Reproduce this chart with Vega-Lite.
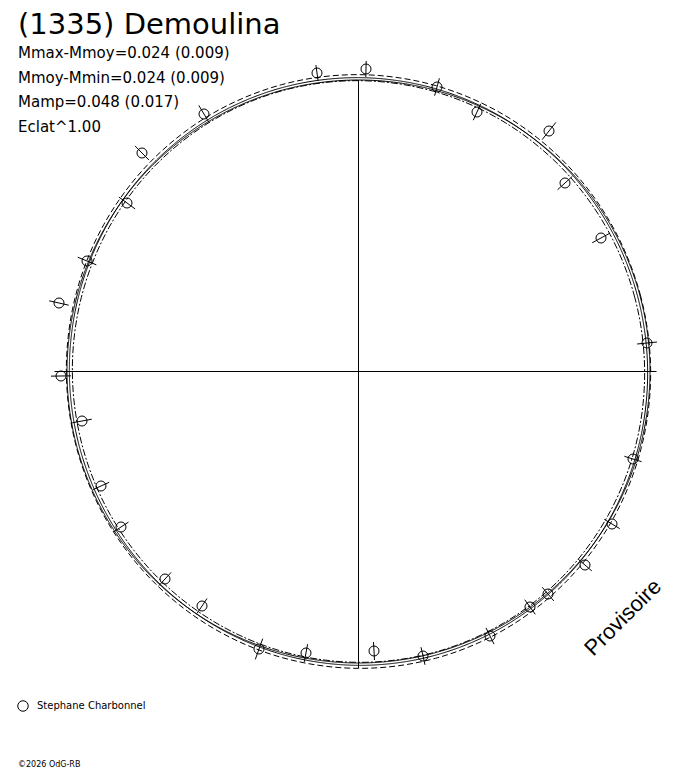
{
  "$schema": "https://vega.github.io/schema/vega-lite/v6.json",
  "width": 688,
  "height": 608,
  "autosize": {"type": "none"},
  "padding": {"left": 0, "right": 0, "top": 140, "bottom": 20},
  "background": "white",
  "config": {"view": {"stroke": null}},
  "title": {
    "text": "(1335) Demoulina",
    "subtitle": ["Mmax-Mmoy=0.024 (0.009)", "Mmoy-Mmin=0.024 (0.009)", "Mamp=0.048 (0.017)", "Eclat^1.00"],
    "anchor": "start",
    "frame": "group",
    "font": "DejaVu Sans",
    "fontSize": 29,
    "fontWeight": "normal",
    "color": "black",
    "subtitleFont": "DejaVu Sans",
    "subtitleFontSize": 15,
    "subtitleColor": "black",
    "subtitleLineHeight": 24.5,
    "subtitlePadding": 6,
    "offset": 4,
    "dx": 18,
    "dy": 78
  },
  "datasets": {
    "curves": [
      {"curve": "circle", "phase": 0, "x": 291.5, "y": 0},
      {"curve": "circle", "phase": 15, "x": 281.57, "y": 75.45},
      {"curve": "circle", "phase": 30, "x": 252.45, "y": 145.75},
      {"curve": "circle", "phase": 45, "x": 206.12, "y": 206.12},
      {"curve": "circle", "phase": 60, "x": 145.75, "y": 252.45},
      {"curve": "circle", "phase": 75, "x": 75.45, "y": 281.57},
      {"curve": "circle", "phase": 90, "x": 0, "y": 291.5},
      {"curve": "circle", "phase": 105, "x": -75.45, "y": 281.57},
      {"curve": "circle", "phase": 120, "x": -145.75, "y": 252.45},
      {"curve": "circle", "phase": 135, "x": -206.12, "y": 206.12},
      {"curve": "circle", "phase": 150, "x": -252.45, "y": 145.75},
      {"curve": "circle", "phase": 165, "x": -281.57, "y": 75.45},
      {"curve": "circle", "phase": 180, "x": -291.5, "y": 0},
      {"curve": "circle", "phase": 195, "x": -281.57, "y": -75.45},
      {"curve": "circle", "phase": 210, "x": -252.45, "y": -145.75},
      {"curve": "circle", "phase": 225, "x": -206.12, "y": -206.12},
      {"curve": "circle", "phase": 240, "x": -145.75, "y": -252.45},
      {"curve": "circle", "phase": 255, "x": -75.45, "y": -281.57},
      {"curve": "circle", "phase": 270, "x": 0, "y": -291.5},
      {"curve": "circle", "phase": 285, "x": 75.45, "y": -281.57},
      {"curve": "circle", "phase": 300, "x": 145.75, "y": -252.45},
      {"curve": "circle", "phase": 315, "x": 206.12, "y": -206.12},
      {"curve": "circle", "phase": 330, "x": 252.45, "y": -145.75},
      {"curve": "circle", "phase": 345, "x": 281.57, "y": -75.45},

      {"curve": "fit", "phase": 0, "x": 289.15, "y": 0},
      {"curve": "fit", "phase": 15, "x": 279.19, "y": 74.81},
      {"curve": "fit", "phase": 30, "x": 250.79, "y": 144.79},
      {"curve": "fit", "phase": 45, "x": 205.51, "y": 205.51},
      {"curve": "fit", "phase": 60, "x": 145.97, "y": 252.82},
      {"curve": "fit", "phase": 75, "x": 75.86, "y": 283.12},
      {"curve": "fit", "phase": 90, "x": 0, "y": 293.85},
      {"curve": "fit", "phase": 105, "x": -76.08, "y": 283.94},
      {"curve": "fit", "phase": 120, "x": -146.71, "y": 254.11},
      {"curve": "fit", "phase": 135, "x": -206.73, "y": 206.73},
      {"curve": "fit", "phase": 150, "x": -252.08, "y": 145.54},
      {"curve": "fit", "phase": 165, "x": -280.01, "y": 75.03},
      {"curve": "fit", "phase": 180, "x": -289.15, "y": 0},
      {"curve": "fit", "phase": 195, "x": -279.19, "y": -74.81},
      {"curve": "fit", "phase": 210, "x": -250.79, "y": -144.79},
      {"curve": "fit", "phase": 225, "x": -205.51, "y": -205.51},
      {"curve": "fit", "phase": 240, "x": -145.97, "y": -252.82},
      {"curve": "fit", "phase": 255, "x": -75.86, "y": -283.12},
      {"curve": "fit", "phase": 270, "x": 0, "y": -293.85},
      {"curve": "fit", "phase": 285, "x": 76.08, "y": -283.94},
      {"curve": "fit", "phase": 300, "x": 146.71, "y": -254.11},
      {"curve": "fit", "phase": 315, "x": 206.73, "y": -206.73},
      {"curve": "fit", "phase": 330, "x": 252.08, "y": -145.54},
      {"curve": "fit", "phase": 345, "x": 280.01, "y": -75.03},

      {"curve": "max", "phase": 0, "x": 292.15, "y": 0},
      {"curve": "max", "phase": 15, "x": 282.09, "y": 75.59},
      {"curve": "max", "phase": 30, "x": 253.38, "y": 146.29},
      {"curve": "max", "phase": 45, "x": 207.64, "y": 207.64},
      {"curve": "max", "phase": 60, "x": 147.47, "y": 255.42},
      {"curve": "max", "phase": 75, "x": 76.64, "y": 286.02},
      {"curve": "max", "phase": 90, "x": 0, "y": 296.85},
      {"curve": "max", "phase": 105, "x": -76.86, "y": 286.84},
      {"curve": "max", "phase": 120, "x": -148.21, "y": 256.71},
      {"curve": "max", "phase": 135, "x": -208.85, "y": 208.85},
      {"curve": "max", "phase": 150, "x": -254.67, "y": 147.04},
      {"curve": "max", "phase": 165, "x": -282.91, "y": 75.81},
      {"curve": "max", "phase": 180, "x": -292.15, "y": 0},
      {"curve": "max", "phase": 195, "x": -282.09, "y": -75.59},
      {"curve": "max", "phase": 210, "x": -253.38, "y": -146.29},
      {"curve": "max", "phase": 225, "x": -207.64, "y": -207.64},
      {"curve": "max", "phase": 240, "x": -147.47, "y": -255.42},
      {"curve": "max", "phase": 255, "x": -76.64, "y": -286.02},
      {"curve": "max", "phase": 270, "x": 0, "y": -296.85},
      {"curve": "max", "phase": 285, "x": 76.86, "y": -286.84},
      {"curve": "max", "phase": 300, "x": 148.21, "y": -256.71},
      {"curve": "max", "phase": 315, "x": 208.85, "y": -208.85},
      {"curve": "max", "phase": 330, "x": 254.67, "y": -147.04},
      {"curve": "max", "phase": 345, "x": 282.91, "y": -75.81},

      {"curve": "min", "phase": 0, "x": 286.15, "y": 0},
      {"curve": "min", "phase": 15, "x": 276.29, "y": 74.03},
      {"curve": "min", "phase": 30, "x": 248.19, "y": 143.29},
      {"curve": "min", "phase": 45, "x": 203.39, "y": 203.39},
      {"curve": "min", "phase": 60, "x": 144.47, "y": 250.22},
      {"curve": "min", "phase": 75, "x": 75.09, "y": 280.22},
      {"curve": "min", "phase": 90, "x": 0, "y": 290.85},
      {"curve": "min", "phase": 105, "x": -75.31, "y": 281.05},
      {"curve": "min", "phase": 120, "x": -145.21, "y": 251.51},
      {"curve": "min", "phase": 135, "x": -204.61, "y": 204.61},
      {"curve": "min", "phase": 150, "x": -249.47, "y": 144.04},
      {"curve": "min", "phase": 165, "x": -277.12, "y": 74.25},
      {"curve": "min", "phase": 180, "x": -286.15, "y": 0},
      {"curve": "min", "phase": 195, "x": -276.29, "y": -74.03},
      {"curve": "min", "phase": 210, "x": -248.19, "y": -143.29},
      {"curve": "min", "phase": 225, "x": -203.39, "y": -203.39},
      {"curve": "min", "phase": 240, "x": -144.47, "y": -250.22},
      {"curve": "min", "phase": 255, "x": -75.09, "y": -280.22},
      {"curve": "min", "phase": 270, "x": 0, "y": -290.85},
      {"curve": "min", "phase": 285, "x": 75.31, "y": -281.05},
      {"curve": "min", "phase": 300, "x": 145.21, "y": -251.51},
      {"curve": "min", "phase": 315, "x": 204.61, "y": -204.61},
      {"curve": "min", "phase": 330, "x": 249.47, "y": -144.04},
      {"curve": "min", "phase": 345, "x": 277.12, "y": -74.25}
    ],
    "obs": [
      {"observer": "Stephane Charbonnel", "x": -41.5, "y": 298.5, "x_lo": -40.4, "y_lo": 290.6, "x_hi": -42.6, "y_hi": 306.4},
      {"observer": "Stephane Charbonnel", "x": 7.5, "y": 302.5, "x_lo": 7.3, "y_lo": 294.5, "x_hi": 7.7, "y_hi": 310.5},
      {"observer": "Stephane Charbonnel", "x": 78.5, "y": 284.5, "x_lo": 76.1, "y_lo": 275.8, "x_hi": 80.9, "y_hi": 293.2},
      {"observer": "Stephane Charbonnel", "x": 118.5, "y": 259.5, "x_lo": 114.8, "y_lo": 251.3, "x_hi": 122.2, "y_hi": 267.7},
      {"observer": "Stephane Charbonnel", "x": 190.5, "y": 240.5, "x_lo": 183.7, "y_lo": 231.9, "x_hi": 197.3, "y_hi": 249.1},
      {"observer": "Stephane Charbonnel", "x": 206.5, "y": 188.5, "x_lo": 199.1, "y_lo": 181.8, "x_hi": 213.9, "y_hi": 195.2},
      {"observer": "Stephane Charbonnel", "x": 242.5, "y": 133.5, "x_lo": 233.7, "y_lo": 128.7, "x_hi": 251.3, "y_hi": 138.3},
      {"observer": "Stephane Charbonnel", "x": 288.5, "y": 28.5, "x_lo": 278.6, "y_lo": 27.5, "x_hi": 298.5, "y_hi": 29.5},
      {"observer": "Stephane Charbonnel", "x": 274.5, "y": -87.5, "x_lo": 265.9, "y_lo": -84.8, "x_hi": 283.1, "y_hi": -90.2},
      {"observer": "Stephane Charbonnel", "x": 253.5, "y": -152.5, "x_lo": 245.8, "y_lo": -147.9, "x_hi": 261.2, "y_hi": -157.1},
      {"observer": "Stephane Charbonnel", "x": 226.5, "y": -193.5, "x_lo": 219.7, "y_lo": -187.7, "x_hi": 233.3, "y_hi": -199.4},
      {"observer": "Stephane Charbonnel", "x": 189.5, "y": -222.5, "x_lo": 183.7, "y_lo": -215.7, "x_hi": 195.3, "y_hi": -229.4},
      {"observer": "Stephane Charbonnel", "x": 171.5, "y": -235.5, "x_lo": 166.2, "y_lo": -228.2, "x_hi": 176.8, "y_hi": -242.8},
      {"observer": "Stephane Charbonnel", "x": 131.5, "y": -264.5, "x_lo": 127.5, "y_lo": -256.4, "x_hi": 135.5, "y_hi": -272.6},
      {"observer": "Stephane Charbonnel", "x": 64.5, "y": -284.5, "x_lo": 62.5, "y_lo": -275.7, "x_hi": 66.5, "y_hi": -293.3},
      {"observer": "Stephane Charbonnel", "x": 15.5, "y": -279.5, "x_lo": 15.0, "y_lo": -270.5, "x_hi": 16.0, "y_hi": -288.5},
      {"observer": "Stephane Charbonnel", "x": -52.5, "y": -281.5, "x_lo": -50.9, "y_lo": -272.7, "x_hi": -54.2, "y_hi": -290.4},
      {"observer": "Stephane Charbonnel", "x": -99.5, "y": -277.5, "x_lo": -95.8, "y_lo": -267.2, "x_hi": -103.2, "y_hi": -287.9},
      {"observer": "Stephane Charbonnel", "x": -156.5, "y": -234.5, "x_lo": -151.5, "y_lo": -227.0, "x_hi": -161.5, "y_hi": -242.0},
      {"observer": "Stephane Charbonnel", "x": -193.5, "y": -207.5, "x_lo": -187.4, "y_lo": -200.9, "x_hi": -199.6, "y_hi": -214.1},
      {"observer": "Stephane Charbonnel", "x": -237.5, "y": -155.5, "x_lo": -230.0, "y_lo": -150.6, "x_hi": -245.0, "y_hi": -160.4},
      {"observer": "Stephane Charbonnel", "x": -257.5, "y": -114.5, "x_lo": -249.3, "y_lo": -110.8, "x_hi": -265.7, "y_hi": -118.2},
      {"observer": "Stephane Charbonnel", "x": -276.5, "y": -49.5, "x_lo": -266.7, "y_lo": -47.7, "x_hi": -286.3, "y_hi": -51.3},
      {"observer": "Stephane Charbonnel", "x": -297.5, "y": -4.5, "x_lo": -287.5, "y_lo": -4.35, "x_hi": -307.5, "y_hi": -4.65},
      {"observer": "Stephane Charbonnel", "x": -299.5, "y": 68.5, "x_lo": -289.8, "y_lo": 66.3, "x_hi": -309.3, "y_hi": 70.7},
      {"observer": "Stephane Charbonnel", "x": -271.5, "y": 110.5, "x_lo": -262.2, "y_lo": 106.7, "x_hi": -280.8, "y_hi": 114.3},
      {"observer": "Stephane Charbonnel", "x": -231.5, "y": 168.5, "x_lo": -223.4, "y_lo": 162.6, "x_hi": -239.6, "y_hi": 174.4},
      {"observer": "Stephane Charbonnel", "x": -216.5, "y": 218.5, "x_lo": -209.5, "y_lo": 211.4, "x_hi": -223.5, "y_hi": 225.6},
      {"observer": "Stephane Charbonnel", "x": -154.5, "y": 257.5, "x_lo": -149.4, "y_lo": 248.9, "x_hi": -159.7, "y_hi": 266.1}
    ]
  },
  "layer": [
    {
      "data": {"name": "curves"},
      "mark": {"type": "line", "interpolate": "cardinal-closed", "strokeWidth": 1, "color": "black", "clip": false},
      "encoding": {
        "x": {"field": "x", "type": "quantitative", "scale": {"domain": [-358.5, 329.5], "nice": false, "zero": false}, "axis": null},
        "y": {"field": "y", "type": "quantitative", "scale": {"domain": [-376.5, 231.5], "nice": false, "zero": false}, "axis": null},
        "detail": {"field": "curve"},
        "order": {"field": "phase", "type": "quantitative"},
        "strokeDash": {"field": "curve", "type": "nominal", "scale": {"domain": ["circle", "fit", "max", "min"], "range": [[1, 0], [1, 0], [6, 3], [7, 2, 2, 2]]}, "legend": null}
      }
    },
    {
      "data": {"values": [{}]},
      "mark": {"type": "rule", "color": "black", "strokeWidth": 1},
      "encoding": {
        "x": {"datum": -304, "type": "quantitative", "axis": null},
        "x2": {"datum": 298},
        "y": {"datum": 0, "type": "quantitative", "axis": null}
      }
    },
    {
      "data": {"values": [{}]},
      "mark": {"type": "rule", "color": "black", "strokeWidth": 1},
      "encoding": {
        "x": {"datum": 0, "type": "quantitative", "axis": null},
        "y": {"datum": 291.5, "type": "quantitative", "axis": null},
        "y2": {"datum": -296.5}
      }
    },
    {
      "data": {"name": "obs"},
      "mark": {"type": "rule", "color": "black", "strokeWidth": 1},
      "encoding": {
        "x": {"field": "x_lo", "type": "quantitative", "axis": null},
        "y": {"field": "y_lo", "type": "quantitative", "axis": null},
        "x2": {"field": "x_hi"},
        "y2": {"field": "y_hi"}
      }
    },
    {
      "data": {"name": "obs"},
      "mark": {"type": "point", "shape": "circle", "filled": false, "size": 100, "strokeWidth": 1, "opacity": 1},
      "encoding": {
        "x": {"field": "x", "type": "quantitative", "axis": null},
        "y": {"field": "y", "type": "quantitative", "axis": null},
        "stroke": {
          "field": "observer", "type": "nominal",
          "scale": {"range": ["black"]},
          "legend": {
            "orient": "none", "legendX": 17, "legendY": 560, "title": null,
            "symbolType": "circle", "symbolSize": 110, "symbolStrokeWidth": 1,
            "symbolFillColor": "white",
            "labelFont": "DejaVu Sans", "labelFontSize": 10, "labelColor": "black", "labelOffset": 8
          }
        }
      }
    },
    {
      "data": {"values": [{}]},
      "mark": {"type": "text", "text": "Provisoire", "font": "Liberation Sans", "fontSize": 22, "angle": -45, "align": "center", "baseline": "middle", "color": "black"},
      "encoding": {
        "x": {"datum": 264.5, "type": "quantitative", "axis": null},
        "y": {"datum": -246, "type": "quantitative", "axis": null}
      }
    },
    {
      "data": {"values": [{}]},
      "mark": {"type": "text", "text": "©2026 OdG-RB", "font": "DejaVu Sans", "fontSize": 8, "align": "left", "baseline": "middle", "color": "black"},
      "encoding": {
        "x": {"datum": -340.5, "type": "quantitative", "axis": null},
        "y": {"datum": -393.5, "type": "quantitative", "axis": null}
      }
    }
  ]
}
